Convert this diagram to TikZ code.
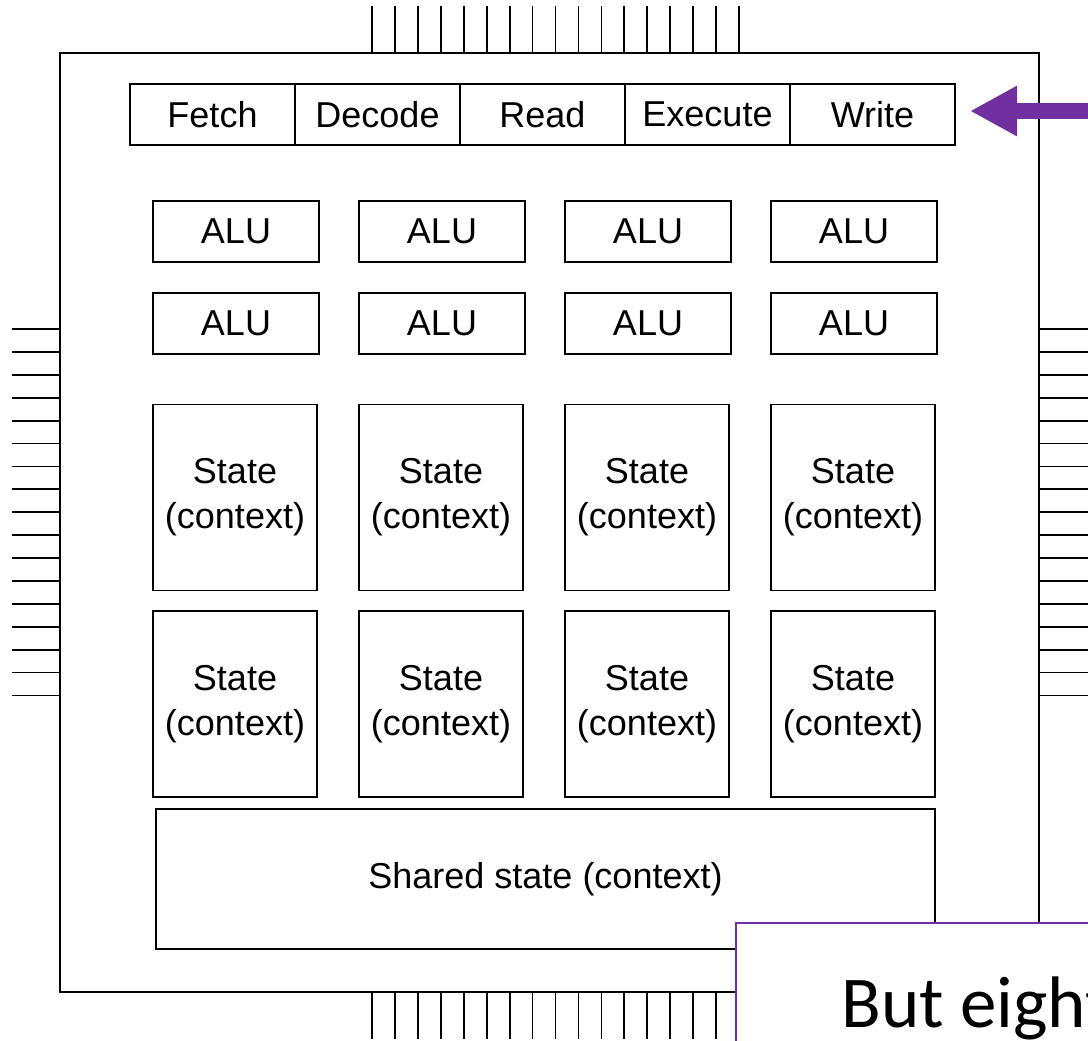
\documentclass[tikz,border=0pt]{standalone}
\usepackage{fontspec}
\setmainfont{Liberation Sans}
\newfontfamily\notefont{Carlito}
\usepackage{tikz}
\usetikzlibrary{
  arrows.meta,
  positioning
}
\definecolor{notepurple}{RGB}{112,48,160}
\tikzset{
  chipbox/.style={draw, line width=2.4pt, minimum width=979pt,
    minimum height=939pt, inner sep=0pt},
  stagebox/.style={draw, line width=1.6pt, outer sep=0pt,
    minimum width=165pt, minimum height=61pt, inner sep=0pt,
    font=\fontsize{36}{45}\selectfont},
  alubox/.style={draw, line width=1.6pt, minimum width=166pt,
    minimum height=61pt, inner sep=0pt,
    font=\fontsize{36}{45}\selectfont},
  statebox/.style={draw, line width=1.6pt, minimum width=164pt,
    minimum height=186pt, inner sep=0pt, align=center,
    font=\fontsize{36}{45}\selectfont},
  pin/.style={line width=1.8pt},
  notebox/.style={draw=notepurple, fill=white, line width=1.8pt,
    minimum width=500pt, minimum height=200pt, anchor=north west},
  hintarrow/.style={-{Triangle[length=47pt,width=47pt]},
    line width=16pt, draw=notepurple, shorten >=15pt},
}

\begin{document}
\begin{tikzpicture}[x=1pt, y=-1pt]
  \useasboundingbox (0,0) rectangle (1088,1041);
  \clip (0,0) rectangle (1088,1041);
  \fill[white] (0,0) rectangle (1088,1041);

  % Chip outline and pins
  \node[chipbox] (chip) at (549.5,522.5) {};
  \foreach \i in {0,...,16} {
    \pgfmathsetmacro{\px}{372+22.94*\i}
    \pgfmathsetmacro{\py}{329+22.9*\i}
    \draw[pin] (\px,6) -- (\px,53) (\px,992) -- (\px,1039);
    \draw[pin] (12,\py) -- (60,\py) (1039,\py) -- (1088,\py);
  }

  % Pipeline stages
  \node[stagebox] (fetch) at (212.5,114.5) {Fetch};
  \node[stagebox, right=0pt of fetch] (decode) {Decode};
  \node[stagebox, right=0pt of decode] (read) {Read};
  \node[stagebox, right=0pt of read] (execute) {Execute};
  \node[stagebox, right=0pt of execute] (write) {Write};

  % ALUs and per-thread state
  \foreach \c in {1,...,4} {
    \node[alubox] (alua\c) at ({30+206*\c},231.5) {ALU};
    \node[alubox] (alub\c) at ({30+206*\c},323.5) {ALU};
    \node[statebox] (statea\c) at ({29+206*\c},497.5) {State\\(context)};
    \node[statebox] (stateb\c) at ({29+206*\c},704) {State\\(context)};
  }
  \node[statebox, minimum width=779pt, minimum height=140pt]
    (shared) at (545.5,879) {Shared state (context)};

  % Callout
  \coordinate (arrowtail) at (1110,111);
  \draw[hintarrow] (arrowtail) -- (write.east |- arrowtail);
  \node[notebox] (note) at (735,922) {};
  \node[anchor=base west, font=\notefont\fontsize{73}{80}\selectfont]
    (notetext) at (838,1027) {But eight};
\end{tikzpicture}
\end{document}
